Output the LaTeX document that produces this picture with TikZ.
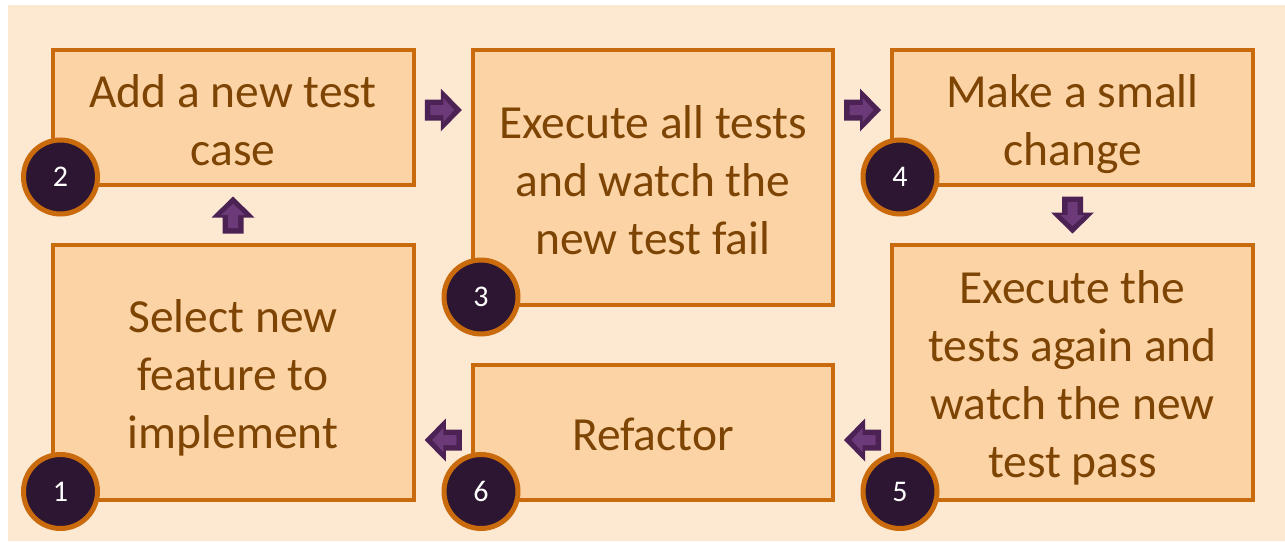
\documentclass[tikz,border=0pt]{standalone}
\usepackage{fontspec}
\setmainfont{Carlito}
\usetikzlibrary{calc}
\definecolor{bgpeach}{HTML}{FDE8D2}
\definecolor{boxfill}{HTML}{FBD3A5}
\definecolor{boxline}{HTML}{C96B0C}
\definecolor{boxtext}{HTML}{7D4404}
\definecolor{badgefill}{HTML}{2D1632}
\definecolor{arrowdark}{HTML}{4C2254}
\definecolor{arrowlight}{HTML}{6C3A78}
% fixed line box: 45.5pt above, 8.5pt below the baseline
\newcommand{\ls}{\rule[-8.5pt]{0pt}{54pt}}

\begin{document}
\begin{tikzpicture}[x=1pt,y=-1pt,
  stepbox/.style={draw=boxline, line width=4pt, fill=boxfill, text=boxtext,
    align=center, font=\fontsize{47.5}{58}\selectfont, inner sep=0pt, outer sep=0pt},
  badge/.style={circle, draw=boxline, line width=5pt, fill=badgefill, text=white,
    minimum size=74pt, inner sep=0pt, font=\fontsize{30}{30}\selectfont},
  pics/flow/.style={code={
    \fill[arrowdark] (-18.5,-10.5) -- (-2.5,-10.5) -- (-2.5,-21.5) -- (18.5,0)
      -- (-2.5,21.5) -- (-2.5,10.5) -- (-18.5,10.5) -- cycle;
    \fill[arrowlight] (-13,-5) -- (0,-5) -- (0,-12) -- (11,0)
      -- (0,12) -- (0,5) -- (-13,5) -- cycle;
  }}]

% page and panel background
\fill[white] (0,0) rectangle (1285,541);
\fill[bgpeach] (8,5) rectangle (1285,541);
\useasboundingbox (0,0) rectangle (1285,541);

% process steps
\node[stepbox, minimum width=361pt, minimum height=135pt]   (b2) at (233,117.5)
  {\ls Add a new test\\\ls case};
\node[stepbox, minimum width=361pt, minimum height=254.5pt] (b1) at (233,372.25)
  {\ls Select new\\\ls feature to\\\ls implement};
\node[stepbox, minimum width=360pt, minimum height=255pt]   (b3) at (653,177.5)
  {\ls Execute all tests\\\ls and watch the\\\ls new test fail};
\node[stepbox, minimum width=360pt, minimum height=134.5pt] (b6) at (653,432.25)
  {\ls Refactor};
\node[stepbox, minimum width=361pt, minimum height=135pt]   (b4) at (1072.5,117.5)
  {\ls Make a small\\\ls change};
\node[stepbox, minimum width=361pt, minimum height=254.5pt] (b5) at (1072.5,372.25)
  {\ls Execute the\\\ls tests again and\\\ls watch the new\\\ls test pass};

% step numbers on the lower left corners
\node[badge] (c1) at ([xshift=8pt,yshift=8pt]b1.south west) {1};
\node[badge] (c2) at ([xshift=8pt,yshift=8pt]b2.south west) {2};
\node[badge] (c3) at ([xshift=8pt,yshift=8pt]b3.south west) {3};
\node[badge] (c4) at ([xshift=8pt,yshift=8pt]b4.south west) {4};
\node[badge] (c5) at ([xshift=8pt,yshift=8pt]b5.south west) {5};
\node[badge] (c6) at ([xshift=8pt,yshift=8pt]b6.south west) {6};

% block arrows between the steps
\pic[rotate=90]  at ($(b1.north)!.5!(b2.south)$) {flow};
\pic[yshift=-60pt] at ($(b2.north east)!.5!(b3.north west)$) {flow};
\pic[yshift=-60pt] at ($(b3.north east)!.5!(b4.north west)$) {flow};
\pic[rotate=-90] at ($(b4.south)!.5!(b5.north)$) {flow};
\pic[yshift=59.5pt, rotate=180] at ($(b6.south east)!.5!(b5.south west)$) {flow};
\pic[yshift=59.5pt, rotate=180] at ($(b1.south east)!.5!(b6.south west)$) {flow};
\end{tikzpicture}
\end{document}
